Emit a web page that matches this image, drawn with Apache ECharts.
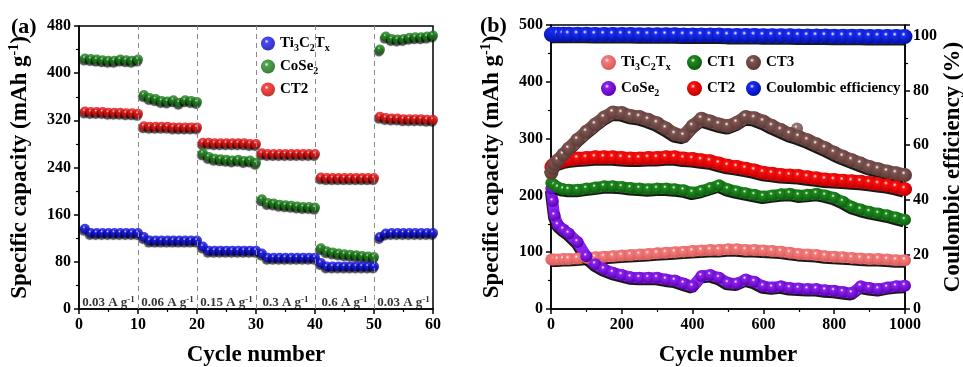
<!DOCTYPE html>
<html>
<head>
<meta charset="utf-8">
<script src="https://cdn.jsdelivr.net/npm/echarts@6/dist/echarts.min.js"></script>
<style>html,body{margin:0;padding:0;background:#fff;}#c{width:963px;height:367px;}</style>
</head>
<body>
<div id="c"></div>
<script>
// ---------- Panel (a): rate capability ----------
const aCycles = [1,2,3,4,5,6,7,8,9,10,11,12,13,14,15,16,17,18,19,20,21,22,23,24,25,26,27,28,29,30,31,32,33,34,35,36,37,38,39,40,41,42,43,44,45,46,47,48,49,50,51,52,53,54,55,56,57,58,59,60];
const aTi = [136,129,129,129,129,129,129,129,129,129, 122,116,116,116,116,116,116,116,116,116, 106,99,99,99,99,99,99,99,99,99, 94,87,87,87,87,87,87,87,87,87, 78,72,72,72,72,72,72,72,72,72, 122,128,129,129,129,129,129,129,129,129];
const aCoSe2 = [425,424,423,422,421,421,423,422,421,423, 363,358,356,353,352,354,350,354,353,351, 264,258,255,254,253,252,253,251,252,248, 186,180,179,177,176,175,174,173,173,172, 103,98,96,94,93,92,91,90,89,88, 440,462,458,457,458,460,461,461,462,464];
const aCT2 = [335,334,334,334,333,333,333,332,332,331, 310,309,309,309,309,308,308,308,308,308, 282,282,281,281,281,281,281,281,280,280, 264,263,263,263,263,263,263,263,263,263, 223,222,222,222,222,222,222,222,222,222, 326,324,323,323,322,322,322,322,321,321];
const rateLabels = ['0.03','0.06','0.15','0.3','0.6','0.03'];
const rateMid = [5,15,25,35,45,55];
const rateBounds = [10,20,30,40,50];

// ---------- Panel (b): long-term cycling ----------
const bCycles = [1,5,10,20,35,50,75,100,125,150,175,200,225,250,275,300,325,350,375,400,425,450,475,500,525,550,575,600,625,650,675,700,725,750,775,800,825,850,875,900,925,950,975,1000];
const bTi   = [87,87,87,87,88,88,89,90,91,92,93,94,95,96,97,98,99,100,101,102,103,104,104,105,105,104,104,103,102,101,99,97,96,95,93,92,91,90,89,88,88,87,86,86];
const bCoSe2= [212,190,165,148,140,133,118,93,79,70,64,60,56,55,55,55,52,50,45,40,58,60,55,46,45,52,48,40,38,40,37,36,35,35,33,32,30,28,40,37,35,38,40,41];
const bCT1  = [222,220,218,214,211,210,210,212,214,216,216,215,213,212,211,212,212,211,209,205,208,213,218,211,207,204,201,198,200,202,203,200,201,203,200,196,189,180,175,171,168,165,161,157];
const bCT2  = [250,253,256,258,261,263,265,266,267,267,267,266,265,265,266,266,267,267,265,264,262,260,256,252,250,247,244,240,238,236,235,234,232,230,228,227,226,225,224,222,220,218,215,211];
const bCT3  = [240,248,255,262,272,282,298,312,325,337,346,345,340,338,333,327,318,308,305,322,335,330,325,322,328,338,336,330,322,315,308,303,297,290,283,275,268,262,256,250,246,242,239,236];
const bCT3Outlier = [[695,318]];
const bCE   = [100.5,100.6,100.6,100.6,100.6,100.6,100.6,100.6,100.5,100.5,100.5,100.5,100.5,100.4,100.4,100.4,100.4,100.4,100.3,100.3,100.3,100.3,100.3,100.2,100.2,100.2,100.2,100.1,100.1,100.1,100.1,100.0,100.0,100.0,100.0,99.9,99.9,99.9,99.9,99.8,99.8,99.8,99.8,99.8];

const F = 'Liberation Serif';
function sphere(base, dark){
  return {type:'radial', x:0.4, y:0.35, r:0.65, colorStops:[
    {offset:0, color:'#ffffff'}, {offset:0.22, color:base}, {offset:1, color:dark}]};
}
const C = {
  aTi:['#1a1aff','#0000a0'], aCo:['#22901e','#0d5a0d'], aCT2:['#ff1a1a','#b00000'],
  bTi:['#f47c7c','#d85a5a'], bCo:['#8a22f0','#5a00b0'], bCT1:['#1f8a1f','#0d5a0d'],
  bCT2:['#ff0d0d','#b80000'], bCT3:['#7d5450','#5a3835'], bCE:['#1a2cf5','#0010a0']
};
const richBase = {
  n:{fontFamily:F, fontWeight:'bold', fontSize:15, color:'#000', lineHeight:20},
  s:{fontFamily:F, fontWeight:'bold', fontSize:10, color:'#000', lineHeight:11, padding:[9,0,0,0]}
};
const nameMap = {
  a_Ti:'{n|Ti}{s|3}{n|C}{s|2}{n|T}{s|x}', a_Co:'{n|CoSe}{s|2}', a_CT2:'{n|CT2}{s| }',
  b_Ti:'{n|Ti}{s|3}{n|C}{s|2}{n|T}{s|x}', b_Co:'{n|CoSe}{s|2}', b_CT1:'{n|CT1}{s| }',
  b_CT2:'{n|CT2}{s| }', b_CT3:'{n|CT3}{s| }', b_CE:'{n|Coulombic efficiency}{s| }'
};
const titleStyle = {
  fontFamily:F, fontWeight:'bold', fontSize:23, color:'#000',
  rich:{
    n:{fontFamily:F, fontWeight:'bold', fontSize:23, color:'#000'},
    sup:{fontFamily:F, fontWeight:'bold', fontSize:14, color:'#000', padding:[0,0,12,0]}
  }
};
function axisBase(extra){
  return Object.assign({
    type:'value',
    axisLine:{show:true, onZero:false, lineStyle:{color:'#000', width:1.5}},
    axisTick:{show:true, inside:false, length:5, lineStyle:{color:'#000', width:1.5}},
    minorTick:{show:true, splitNumber:2, length:3, lineStyle:{color:'#000', width:1.2}},
    splitLine:{show:false},
    axisLabel:{color:'#000', fontFamily:F, fontWeight:'bold', fontSize:16, margin:8, formatter:v=>String(v)},
    nameTextStyle:titleStyle
  }, extra);
}
function scatterA(name, data, col){
  return {
    name, type:'scatter', xAxisIndex:0, yAxisIndex:0, clip:false,
    data: aCycles.map((c,i)=>[c, data[i]]),
    symbol:'circle', symbolSize:10,
    itemStyle:{color:sphere(col[0], col[1]), shadowColor:'rgba(0,0,0,0.85)', shadowOffsetX:-1, shadowOffsetY:2, shadowBlur:1},
    emphasis:{disabled:true}
  };
}
function lineB(name, data, col, yIdx, w){
  return {
    name, type:'line', xAxisIndex:1, yAxisIndex:yIdx, clip:false,
    data: bCycles.map((c,i)=>[c, data[i]]),
    symbol:'circle', symbolSize:w+1, showSymbol:true,
    lineStyle:{width:w, color:col[0], shadowColor:'rgba(0,0,0,0.9)', shadowOffsetX:-1, shadowOffsetY:2},
    itemStyle:{color:sphere(col[0], col[1])},
    emphasis:{disabled:true}
  };
}
function legendCol(left, top, names, textGap){
  return {
    left, top, orient:'vertical', itemWidth:15, itemHeight:15, itemGap:7, itemTextGap:textGap,
    icon:'circle', data:names, selectedMode:false,
    formatter: n => nameMap[n],
    textStyle:{fontFamily:F, fontWeight:'bold', fontSize:15, color:'#000', rich:richBase}
  };
}

const option = {
  animation:false,
  backgroundColor:'#ffffff',
  grid:[
    {left:79, top:26, width:354, height:283, outerBoundsMode:'none', containLabel:false, show:true, borderColor:'#000', borderWidth:1.5, backgroundColor:'transparent'},
    {left:551, top:25, width:354, height:284, outerBoundsMode:'none', containLabel:false, show:true, borderColor:'#000', borderWidth:1.5, backgroundColor:'transparent'}
  ],
  xAxis:[
    axisBase({gridIndex:0, min:0, max:60, interval:10, name:'Cycle number', nameLocation:'middle', nameGap:35}),
    axisBase({gridIndex:1, min:0, max:1000, interval:200, name:'Cycle number', nameLocation:'middle', nameGap:35})
  ],
  yAxis:[
    axisBase({gridIndex:0, min:0, max:480, interval:80, name:'{n|Specific capacity (mAh g}{sup|-1}{n|)}', nameLocation:'middle', nameGap:46, nameRotate:90}),
    axisBase({gridIndex:1, min:0, max:500, interval:100, name:'{n|Specific capacity (mAh g}{sup|-1}{n|)}', nameLocation:'middle', nameGap:46, nameRotate:90}),
    axisBase({gridIndex:1, position:'right', min:0, max:104, interval:20, name:'{n|Coulombic efficiency (%)}', nameLocation:'middle', nameGap:37, nameRotate:90,
      axisLabel:{color:'#000', fontFamily:F, fontWeight:'bold', fontSize:16, margin:8, showMaxLabel:false, formatter:v=>String(v)}})
  ],
  legend:[
    {left:256, top:29, orient:'vertical', itemWidth:14, itemHeight:14, itemGap:4, itemTextGap:14,
     icon:'circle', data:['a_Ti','a_Co','a_CT2'], selectedMode:false, formatter:n=>nameMap[n],
     textStyle:{fontFamily:F, fontWeight:'bold', fontSize:15, color:'#000', rich:richBase}},
    legendCol(596, 48, ['b_Ti','b_Co'], 8),
    legendCol(682, 48, ['b_CT1','b_CT2'], 13),
    legendCol(741, 48, ['b_CT3','b_CE'], 16)
  ],
  graphic:[
    {type:'text', left:11, top:16, style:{text:'(a)', font:'bold 22px "Liberation Serif"', fill:'#000'}},
    {type:'text', left:480, top:15, style:{text:'(b)', font:'bold 22px "Liberation Serif"', fill:'#000'}}
  ],
  series:[
    {
      name:'rates', type:'scatter', xAxisIndex:0, yAxisIndex:0, symbolSize:0, silent:true,
      data: rateMid.map(x=>[x, 10]),
      label:{show:true, position:'inside', color:'#000',
        formatter: p => '{t|' + rateLabels[p.dataIndex] + ' A g}{sup|-1}',
        rich:{t:{fontFamily:F, fontWeight:'bold', fontSize:13, color:'#000'},
              sup:{fontFamily:F, fontWeight:'bold', fontSize:9, color:'#000', padding:[0,0,7,0]}}},
      markLine:{silent:true, symbol:'none', label:{show:false},
        lineStyle:{type:[5,4], color:'#8a8a8a', width:1},
        data: rateBounds.map(v=>({xAxis:v}))}
    },
    scatterA('a_CT2', aCT2, C.aCT2),
    scatterA('a_Co', aCoSe2, C.aCo),
    scatterA('a_Ti', aTi, C.aTi),
    lineB('b_Ti', bTi, C.bTi, 1, 11),
    lineB('b_Co', bCoSe2, C.bCo, 1, 11),
    lineB('b_CT1', bCT1, C.bCT1, 1, 11),
    lineB('b_CT2', bCT2, C.bCT2, 1, 13),
    lineB('b_CT3', bCT3, C.bCT3, 1, 13),
    {name:'b_CT3o', type:'scatter', xAxisIndex:1, yAxisIndex:1, data:bCT3Outlier, symbolSize:12,
     itemStyle:{color:sphere(C.bCT3[0], C.bCT3[1])}, emphasis:{disabled:true}},
    lineB('b_CE', bCE, C.bCE, 2, 14)
  ]
};
const chart = echarts.init(document.getElementById('c'), null, {renderer:'canvas'});
chart.setOption(option);
</script>
</body>
</html>
